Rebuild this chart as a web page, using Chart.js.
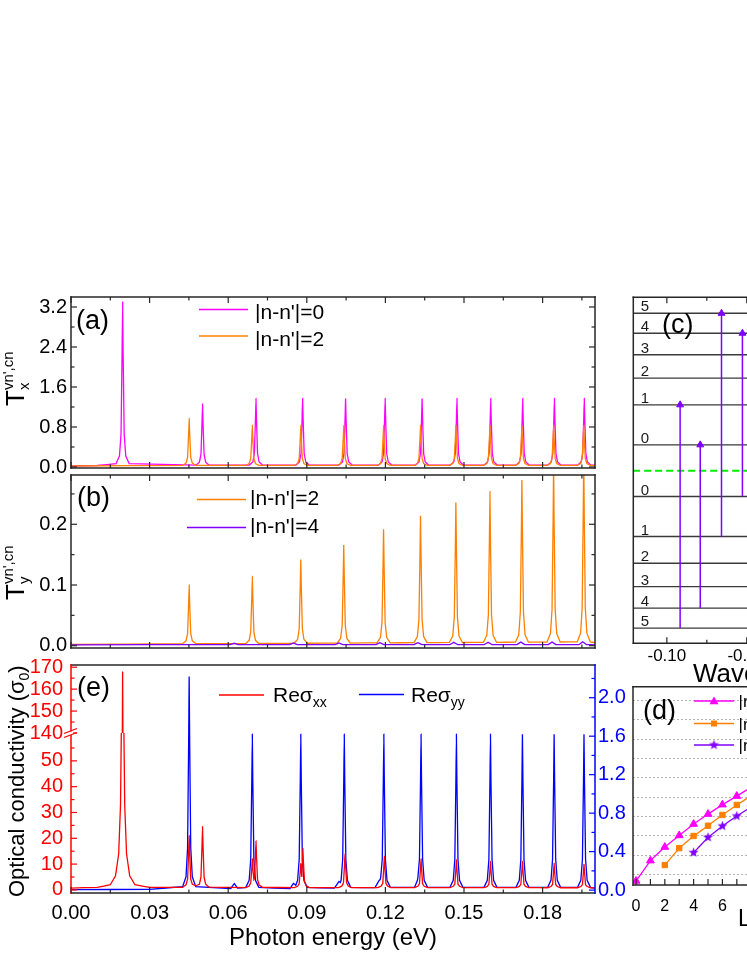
<!DOCTYPE html>
<html lang="en">
<head>
<meta charset="UTF-8">
<title>Transition strengths and optical conductivity</title>
<script src="https://cdn.jsdelivr.net/npm/chart.js"></script>
<style>
  body { margin: 0; background: #fff; }
  #fig { position: relative; width: 747px; height: 967px; overflow: hidden; background: #fff; }
  #fig canvas { position: absolute; left: 0; top: 0; }
</style>
</head>
<body>
<div id="fig">
  <canvas id="panelA" width="747" height="967"></canvas>
  <canvas id="panelB" width="747" height="967"></canvas>
  <canvas id="panelE" width="747" height="967"></canvas>
  <canvas id="panelC" width="1040" height="967"></canvas>
  <canvas id="panelD" width="1060" height="967"></canvas>
</div>
<script>
// ---- data ----
// (a) T_x, |n-n'|=0 and |n-n'|=2, photon energy in eV
const tx0 = [[0,0.02],[0.0100,0.03],
  [0.0172,0.066],[0.0185,0.22],[0.0191,0.66],[0.0195,2.28],[0.0197,3.3],[0.0199,2.28],[0.0203,0.66],[0.0209,0.22],[0.0222,0.066],
  [0.0477,0.038],[0.0490,0.096],[0.0496,0.25],[0.0500,0.87],[0.0502,1.26],[0.0504,0.87],[0.0508,0.25],[0.0514,0.096],[0.0527,0.038],
  [0.0681,0.039],[0.0694,0.10],[0.0700,0.27],[0.0704,0.95],[0.0706,1.37],[0.0708,0.95],[0.0712,0.27],[0.0718,0.10],[0.0731,0.039],
  [0.0859,0.039],[0.0872,0.10],[0.0878,0.27],[0.0882,0.95],[0.0884,1.37],[0.0886,0.95],[0.0890,0.27],[0.0896,0.10],[0.0909,0.039],
  [0.1023,0.039],[0.1036,0.10],[0.1042,0.27],[0.1046,0.95],[0.1048,1.37],[0.1050,0.95],[0.1054,0.27],[0.1060,0.10],[0.1073,0.039],
  [0.1174,0.039],[0.1187,0.10],[0.1193,0.27],[0.1197,0.95],[0.1199,1.37],[0.1201,0.95],[0.1205,0.27],[0.1211,0.10],[0.1224,0.039],
  [0.1315,0.039],[0.1328,0.10],[0.1334,0.27],[0.1338,0.95],[0.1340,1.37],[0.1342,0.95],[0.1346,0.27],[0.1352,0.10],[0.1365,0.039],
  [0.1448,0.039],[0.1461,0.10],[0.1467,0.27],[0.1471,0.95],[0.1473,1.37],[0.1475,0.95],[0.1479,0.27],[0.1485,0.10],[0.1498,0.039],
  [0.1577,0.039],[0.1590,0.10],[0.1596,0.27],[0.1600,0.95],[0.1602,1.37],[0.1604,0.95],[0.1608,0.27],[0.1614,0.10],[0.1627,0.039],
  [0.1699,0.039],[0.1712,0.10],[0.1718,0.27],[0.1722,0.95],[0.1724,1.37],[0.1726,0.95],[0.1730,0.27],[0.1736,0.10],[0.1749,0.039],
  [0.1820,0.039],[0.1833,0.10],[0.1839,0.27],[0.1843,0.95],[0.1845,1.37],[0.1847,0.95],[0.1851,0.27],[0.1857,0.10],[0.1870,0.039],
  [0.1934,0.039],[0.1947,0.10],[0.1953,0.27],[0.1957,0.95],[0.1959,1.37],[0.1961,0.95],[0.1965,0.27],[0.1971,0.10],[0.1984,0.039],
  [0.2,0.035]];
const tx2 = [[0,0.02],
  [0.0426,0.034],[0.0439,0.078],[0.0445,0.19],[0.0449,0.67],[0.0451,0.97],[0.0453,0.67],[0.0457,0.19],[0.0463,0.078],[0.0476,0.034],
  [0.0667,0.032],[0.0680,0.07],[0.0686,0.17],[0.0690,0.57],[0.0692,0.83],[0.0694,0.57],[0.0698,0.17],[0.0704,0.07],[0.0717,0.032],
  [0.0852,0.032],[0.0865,0.07],[0.0871,0.17],[0.0875,0.57],[0.0877,0.83],[0.0879,0.57],[0.0883,0.17],[0.0889,0.07],[0.0902,0.032],
  [0.1016,0.032],[0.1029,0.07],[0.1035,0.17],[0.1039,0.57],[0.1041,0.83],[0.1043,0.57],[0.1047,0.17],[0.1053,0.07],[0.1066,0.032],
  [0.1168,0.032],[0.1181,0.07],[0.1187,0.17],[0.1191,0.57],[0.1193,0.83],[0.1195,0.57],[0.1199,0.17],[0.1205,0.07],[0.1218,0.032],
  [0.1309,0.032],[0.1322,0.07],[0.1328,0.17],[0.1332,0.57],[0.1334,0.83],[0.1336,0.57],[0.1340,0.17],[0.1346,0.07],[0.1359,0.032],
  [0.1444,0.032],[0.1457,0.07],[0.1463,0.17],[0.1467,0.57],[0.1469,0.83],[0.1471,0.57],[0.1475,0.17],[0.1481,0.07],[0.1494,0.032],
  [0.1574,0.032],[0.1587,0.07],[0.1593,0.17],[0.1597,0.57],[0.1599,0.83],[0.1601,0.57],[0.1605,0.17],[0.1611,0.07],[0.1624,0.032],
  [0.1696,0.032],[0.1709,0.07],[0.1715,0.17],[0.1719,0.57],[0.1721,0.83],[0.1723,0.57],[0.1727,0.17],[0.1733,0.07],[0.1746,0.032],
  [0.1817,0.032],[0.1830,0.07],[0.1836,0.17],[0.1840,0.57],[0.1842,0.83],[0.1844,0.57],[0.1848,0.17],[0.1854,0.07],[0.1867,0.032],
  [0.1932,0.032],[0.1945,0.07],[0.1951,0.17],[0.1955,0.57],[0.1957,0.83],[0.1959,0.57],[0.1963,0.17],[0.1969,0.07],[0.1982,0.032],
  [0.2,0.03]];

// (b) T_y, |n-n'|=2 and |n-n'|=4
const ty2 = [[0,0.002],
  [0.0426,0.0034],[0.0439,0.008],[0.0445,0.020],[0.0449,0.069],[0.0451,0.100],[0.0453,0.069],[0.0457,0.020],[0.0463,0.008],[0.0476,0.0034],
  [0.0667,0.0036],[0.0680,0.0088],[0.0686,0.023],[0.0690,0.079],[0.0692,0.114],[0.0694,0.079],[0.0698,0.023],[0.0704,0.0088],[0.0717,0.0036],
  [0.0852,0.004],[0.0865,0.0105],[0.0871,0.028],[0.0875,0.098],[0.0877,0.142],[0.0879,0.098],[0.0883,0.028],[0.0889,0.0105],[0.0902,0.004],
  [0.1016,0.0043],[0.1029,0.012],[0.1035,0.033],[0.1039,0.115],[0.1041,0.166],[0.1043,0.115],[0.1047,0.033],[0.1053,0.012],[0.1066,0.0043],
  [0.1168,0.0047],[0.1181,0.0135],[0.1187,0.038],[0.1191,0.132],[0.1193,0.192],[0.1195,0.132],[0.1199,0.038],[0.1205,0.0135],[0.1218,0.0047],
  [0.1309,0.005],[0.1322,0.015],[0.1328,0.043],[0.1332,0.148],[0.1334,0.214],[0.1336,0.148],[0.1340,0.043],[0.1346,0.015],[0.1359,0.005],
  [0.1444,0.0053],[0.1457,0.016],[0.1463,0.047],[0.1467,0.163],[0.1469,0.236],[0.1471,0.163],[0.1475,0.047],[0.1481,0.016],[0.1494,0.0053],
  [0.1574,0.0056],[0.1587,0.017],[0.1593,0.051],[0.1597,0.175],[0.1599,0.254],[0.1601,0.175],[0.1605,0.051],[0.1611,0.017],[0.1624,0.0056],
  [0.1696,0.0058],[0.1709,0.018],[0.1715,0.055],[0.1719,0.188],[0.1721,0.273],[0.1723,0.188],[0.1727,0.055],[0.1733,0.018],[0.1746,0.0058],
  [0.1817,0.0061],[0.1830,0.020],[0.1836,0.059],[0.1840,0.204],[0.1842,0.295],[0.1844,0.204],[0.1848,0.059],[0.1854,0.020],[0.1867,0.0061],
  [0.1932,0.0063],[0.1945,0.0206],[0.1951,0.062],[0.1955,0.214],[0.1957,0.31],[0.1959,0.214],[0.1963,0.062],[0.1969,0.0206],[0.1982,0.0063],
  [0.2,0.005]];
const ty4 = [[0,0.0015],
  [0.0608,0.0017],[0.0623,0.004],[0.0638,0.0017],
  [0.0834,0.0017],[0.0849,0.0045],[0.0864,0.0017],
  [0.1008,0.0017],[0.1023,0.0045],[0.1038,0.0017],
  [0.1164,0.0017],[0.1179,0.005],[0.1194,0.0017],
  [0.1309,0.0017],[0.1324,0.005],[0.1339,0.0017],
  [0.1446,0.0017],[0.1461,0.0055],[0.1476,0.0017],
  [0.1577,0.0017],[0.1592,0.0055],[0.1607,0.0017],
  [0.1702,0.0017],[0.1717,0.006],[0.1732,0.0017],
  [0.1821,0.0017],[0.1836,0.006],[0.1851,0.0017],
  [0.1938,0.0017],[0.1953,0.0065],[0.1968,0.0017],
  [0.2,0.0015]];

// (e) Re sigma_xx (left, broken axis) and Re sigma_yy (right axis), units of sigma_0
const sigXX = [[0,0.7],[0.0100,1.0],[0.0150,2.0],[0.0170,5.5],[0.0182,14],[0.0189,33],[0.0193,70],[0.0197,168],[0.0201,70],[0.0205,33],[0.0212,14],[0.0224,5.5],[0.0244,2.0],[0.0300,1.0],
  [0.0426,1.0],[0.0439,2.0],[0.0445,4.2],[0.0449,14.5],[0.0451,21],[0.0453,14.5],[0.0457,4.2],[0.0463,2.2],[0.0476,1.6],
  [0.0490,2.2],[0.0496,4.9],[0.0500,16.9],[0.0502,24.5],[0.0504,16.9],[0.0508,4.9],[0.0514,2.2],[0.0527,1.04],
  [0.0667,0.9],[0.0680,1.5],[0.0686,2.8],[0.0690,8.3],[0.0692,12],[0.0694,8.4],[0.0698,4.0],[0.0700,4.3],[0.0704,13.2],[0.0706,19],[0.0708,13.2],[0.0712,4.0],[0.0718,1.9],[0.0731,1.0],
  [0.0852,0.85],[0.0865,1.4],[0.0871,2.4],[0.0875,7.2],[0.0877,10.3],[0.0879,7.5],[0.0881,5.0],[0.0883,11.1],[0.0885,16],[0.0887,11.1],[0.0891,3.3],[0.0897,1.6],[0.0910,0.9],
  [0.1021,0.9],[0.1034,1.5],[0.1040,2.8],[0.1044,9.7],[0.1046,14],[0.1048,9.7],[0.1052,2.8],[0.1058,1.5],[0.1071,0.9],
  [0.1171,0.88],[0.1184,1.48],[0.1190,2.6],[0.1194,9.0],[0.1196,13],[0.1198,9.0],[0.1202,2.6],[0.1208,1.48],[0.1221,0.88],
  [0.1311,0.87],[0.1324,1.42],[0.1330,2.4],[0.1334,8.3],[0.1336,12],[0.1338,8.3],[0.1342,2.4],[0.1348,1.42],[0.1361,0.87],
  [0.1446,0.86],[0.1459,1.4],[0.1465,2.3],[0.1469,8.0],[0.1471,11.6],[0.1473,8.0],[0.1477,2.3],[0.1483,1.4],[0.1496,0.86],
  [0.1576,0.85],[0.1589,1.36],[0.1595,2.2],[0.1599,7.6],[0.1601,11],[0.1603,7.6],[0.1607,2.2],[0.1613,1.36],[0.1626,0.85],
  [0.1698,0.85],[0.1711,1.36],[0.1717,2.2],[0.1721,7.6],[0.1723,11],[0.1725,7.6],[0.1729,2.2],[0.1735,1.36],[0.1748,0.85],
  [0.1819,0.84],[0.1832,1.32],[0.1838,2.1],[0.1842,7.1],[0.1844,10.3],[0.1846,7.1],[0.1850,2.1],[0.1856,1.32],[0.1869,0.84],
  [0.1933,0.84],[0.1946,1.3],[0.1952,2.0],[0.1956,6.9],[0.1958,10],[0.1960,6.9],[0.1964,2.0],[0.1970,1.3],[0.1983,0.84],
  [0.2,0.8]];
const sigYY = [[0,0.005],[0.0300,0.008],
  [0.0426,0.036],[0.0439,0.138],[0.0445,0.44],[0.0449,1.53],[0.0451,2.22],[0.0453,1.53],[0.0457,0.44],[0.0463,0.138],[0.0476,0.036],
  [0.0610,0.015],[0.0623,0.07],[0.0636,0.02],
  [0.0667,0.028],[0.0680,0.102],[0.0686,0.32],[0.0690,1.12],[0.0692,1.62],[0.0694,1.12],[0.0698,0.32],[0.0704,0.102],[0.0717,0.028],
  [0.0836,0.016],[0.0849,0.07],[0.0858,0.05],
  [0.0865,0.102],[0.0871,0.32],[0.0875,1.12],[0.0877,1.62],[0.0879,1.12],[0.0883,0.32],[0.0889,0.102],[0.0902,0.028],
  [0.1005,0.02],[0.1023,0.09],[0.1028,0.08],
  [0.1031,0.102],[0.1037,0.32],[0.1041,1.12],[0.1043,1.62],[0.1045,1.12],[0.1049,0.32],[0.1055,0.102],[0.1068,0.028],
  [0.1160,0.025],[0.1176,0.1],[0.1180,0.11],
  [0.1182,0.13],[0.1188,0.32],[0.1192,1.12],[0.1194,1.62],[0.1196,1.12],[0.1200,0.32],[0.1206,0.102],[0.1219,0.028],
  [0.1311,0.028],[0.1322,0.1],[0.1324,0.13],[0.1330,0.32],[0.1334,1.12],[0.1336,1.62],[0.1338,1.12],[0.1342,0.32],[0.1348,0.102],[0.1361,0.028],
  [0.1446,0.028],[0.1459,0.102],[0.1465,0.32],[0.1469,1.12],[0.1471,1.62],[0.1473,1.12],[0.1477,0.32],[0.1483,0.102],[0.1496,0.028],
  [0.1576,0.028],[0.1589,0.102],[0.1595,0.32],[0.1599,1.12],[0.1601,1.62],[0.1603,1.12],[0.1607,0.32],[0.1613,0.102],[0.1626,0.028],
  [0.1698,0.028],[0.1711,0.102],[0.1717,0.32],[0.1721,1.12],[0.1723,1.62],[0.1725,1.12],[0.1729,0.32],[0.1735,0.102],[0.1748,0.028],
  [0.1819,0.028],[0.1832,0.102],[0.1838,0.32],[0.1842,1.12],[0.1844,1.62],[0.1846,1.12],[0.1850,0.32],[0.1856,0.102],[0.1869,0.028],
  [0.1933,0.028],[0.1946,0.102],[0.1952,0.32],[0.1956,1.12],[0.1958,1.62],[0.1960,1.12],[0.1964,0.32],[0.1970,0.102],[0.1983,0.028],
  [0.2,0.02]];

// (c) Landau levels (meV, symmetric about the Fermi level) and the drawn transitions
const levelEnergy = [9.85, 25.1, 35.3, 44.2, 52.4, 60.0];
const levelIndex = ['0', '1', '2', '3', '4', '5'];
const arrowK = [-0.0917, -0.0791, -0.0658, -0.0527];
const arrowFrom = [-60.0, -52.4, -25.1, -9.85];
const arrowTo = [25.1, 9.85, 60.0, 52.4];
const kMin = -0.121, kMax = 0.121;

// (d) peak positions (THz) against level index
const peakN0 = [[0,4.76],[1,12.1],[2,17.0],[3,21.2],[4,25.3],[5,28.9],[6,32.3],[7,35.4],[8,38.6]];
const peakN2 = [[2,10.5],[3,16.6],[4,21.0],[5,24.7],[6,28.6],[7,32.2],[8,35.5]];
const peakN4 = [[4,15.0],[5,20.5],[6,24.6],[7,28.2],[8,31.5]];

// ---- styling ----
const FONT = '"Liberation Sans", Arial, sans-serif';
const MAG = '#ff00ff', ORG = '#ff8000', VIO = '#8000ff', RED = '#ff0000', BLU = '#0000ff', GRN = '#00ee00';
const INK = '#262626';

Chart.defaults.font.family = FONT;
Chart.defaults.color = '#000';
Chart.defaults.animation = false;
Chart.defaults.events = [];
Chart.defaults.responsive = false;
Chart.defaults.plugins.legend.display = false;
Chart.defaults.plugins.tooltip.enabled = false;
Chart.defaults.elements.point.radius = 0;
Chart.defaults.elements.line.borderWidth = 1.3;
// a tiny tension keeps the segments straight but avoids the column-merging fast path
Chart.defaults.elements.line.tension = 0.0001;
Chart.defaults.elements.line.fill = false;

// small filled star used as marker for |n-n'|=4 in (d)
const starImg = document.createElement('canvas');
starImg.width = 11; starImg.height = 11;
(function () {
  const c = starImg.getContext('2d');
  c.fillStyle = VIO;
  c.beginPath();
  for (let i = 0; i < 10; i++) {
    const r = i % 2 ? 2.2 : 5.3;
    const a = -Math.PI / 2 + i * Math.PI / 5;
    c.lineTo(5.5 + r * Math.cos(a), 5.5 + r * Math.sin(a));
  }
  c.closePath();
  c.fill();
})();

// box around the plot with inward ticks on the chosen sides
const framePlugin = {
  id: 'frame',
  afterDatasetsDraw(chart, args, o) {
    if (!o || !o.on) return;
    const {ctx, chartArea: a} = chart;
    const b = o.border || {};
    ctx.save();
    ctx.lineWidth = 1.5;
    ctx.lineCap = 'square';
    const edge = (col, x1, y1, x2, y2) => {
      ctx.strokeStyle = col; ctx.beginPath(); ctx.moveTo(x1, y1); ctx.lineTo(x2, y2); ctx.stroke();
    };
    edge(b.top || INK, a.left, a.top, a.right, a.top);
    edge(b.bottom || INK, a.left, a.bottom, a.right, a.bottom);
    edge(b.left || INK, a.left, a.top, a.left, a.bottom);
    edge(b.right || INK, a.right, a.top, a.right, a.bottom);
    ctx.lineWidth = 1.2;
    ctx.lineCap = 'butt';
    (o.axes || []).forEach(ax => {
      const sc = chart.scales[ax.id];
      ctx.strokeStyle = ax.color || INK;
      const k0 = Math.ceil(sc.min / ax.step - 1e-6), k1 = Math.floor(sc.max / ax.step + 1e-6);
      for (let k = k0; k <= k1; k++) {
        const v = k * ax.step;
        if (ax.maxV !== undefined && v > ax.maxV + 1e-9) continue;
        const p = sc.getPixelForValue(v);
        const len = Math.abs(k) % (ax.every || 1) === 0 ? 6 : 3.5;
        ax.sides.forEach(s => {
          ctx.beginPath();
          if (s === 'bottom') { ctx.moveTo(p, a.bottom); ctx.lineTo(p, a.bottom - len); }
          if (s === 'top') { ctx.moveTo(p, a.top); ctx.lineTo(p, a.top + len); }
          if (s === 'left') { ctx.moveTo(a.left, p); ctx.lineTo(a.left + len, p); }
          if (s === 'right') { ctx.moveTo(a.right, p); ctx.lineTo(a.right - len, p); }
          ctx.stroke();
        });
      }
    });
    ctx.restore();
  }
};

function drawMarker(ctx, kind, x, y, col) {
  if (kind === 'star') { ctx.drawImage(starImg, x - 5.5, y - 5.5); return; }
  ctx.fillStyle = col;
  ctx.beginPath();
  if (kind === 'tri') { ctx.moveTo(x, y - 4.5); ctx.lineTo(x + 4.5, y + 3.2); ctx.lineTo(x - 4.5, y + 3.2); }
  else { ctx.rect(x - 3, y - 3, 6, 6); }
  ctx.closePath();
  ctx.fill();
}

// legend samples, panel letters and axis titles with sub/superscripts
const notesPlugin = {
  id: 'notes',
  afterDraw(chart, args, o) {
    if (!o) return;
    const ctx = chart.ctx;
    (o.lines || []).forEach(l => {
      ctx.save();
      ctx.strokeStyle = l.color;
      ctx.lineWidth = l.width || 1.5;
      ctx.beginPath(); ctx.moveTo(l.x1, l.y); ctx.lineTo(l.x2, l.y); ctx.stroke();
      if (l.marker) drawMarker(ctx, l.marker, (l.x1 + l.x2) / 2, l.y, l.color);
      ctx.restore();
    });
    (o.texts || []).forEach(t => {
      ctx.save();
      ctx.translate(t.x, t.y);
      if (t.rot) ctx.rotate(t.rot);
      ctx.fillStyle = t.color || '#000';
      ctx.textBaseline = 'alphabetic';
      ctx.textAlign = 'left';
      let cx = 0, lastStart = 0;
      t.parts.forEach(p => {
        const str = p[0], size = p[1], dy = p[2] || 0, back = p[3];
        if (back) cx = lastStart;
        ctx.font = size + 'px ' + FONT;
        lastStart = cx;
        ctx.fillText(str, cx, dy);
        cx += ctx.measureText(str).width;
      });
      ctx.restore();
    });
  }
};

Chart.register(framePlugin, notesPlugin);

const hiddenGrid = {grid: {display: false, drawTicks: false}, border: {display: false}};
const UP = -Math.PI / 2;

// ---- (a) ----
new Chart(document.getElementById('panelA'), {
  type: 'line',
  data: {datasets: [
    {data: tx2, borderColor: ORG, order: 0},
    {data: tx0, borderColor: MAG, order: 1}
  ]},
  options: {
    layout: {padding: {left: 9, top: 297, right: 152, bottom: 499}},
    scales: {
      x: {type: 'linear', display: false, min: 0, max: 0.2},
      y: Object.assign({
        type: 'linear', min: -0.02, max: 3.4,
        ticks: {stepSize: 0.8, autoSkip: false, includeBounds: false, padding: 4, font: {size: 20}, callback: v => v.toFixed(1)},
        afterFit: s => { s.width = 62; }
      }, hiddenGrid)
    },
    plugins: {
      frame: {on: true, axes: [
        {id: 'x', sides: ['bottom', 'top'], step: 0.015, every: 2},
        {id: 'y', sides: ['left', 'right'], step: 0.4, every: 2}
      ]},
      notes: {
        lines: [
          {x1: 199, x2: 248, y: 309.5, color: MAG},
          {x1: 199, x2: 248, y: 336, color: ORG}
        ],
        texts: [
          {x: 76, y: 329, parts: [['(a)', 27]]},
          {x: 255, y: 319, parts: [["|n-n'|=0", 21]]},
          {x: 255, y: 346, parts: [["|n-n'|=2", 21]]},
          {x: 24, y: 406, rot: UP, parts: [['T', 26], ['x', 15, 5], ["vn',cn", 15, -11, true]]}
        ]
      }
    }
  }
});

// ---- (b) ----
new Chart(document.getElementById('panelB'), {
  type: 'line',
  data: {datasets: [
    {data: ty4, borderColor: VIO, order: 0},
    {data: ty2, borderColor: ORG, order: 1}
  ]},
  options: {
    layout: {padding: {left: 9, top: 475, right: 152, bottom: 319}},
    scales: {
      x: {type: 'linear', display: false, min: 0, max: 0.2},
      y: Object.assign({
        type: 'linear', min: -0.0038, max: 0.2812,
        ticks: {stepSize: 0.1, autoSkip: false, includeBounds: false, padding: 4, font: {size: 20}, callback: v => v.toFixed(1)},
        afterFit: s => { s.width = 62; }
      }, hiddenGrid)
    },
    plugins: {
      frame: {on: true, axes: [
        {id: 'x', sides: ['bottom', 'top'], step: 0.015, every: 2},
        {id: 'y', sides: ['left', 'right'], step: 0.05, every: 2}
      ]},
      notes: {
        lines: [
          {x1: 197, x2: 246, y: 499.5, color: ORG},
          {x1: 187, x2: 246, y: 527.5, color: VIO}
        ],
        texts: [
          {x: 77, y: 506, parts: [['(b)', 27]]},
          {x: 250, y: 505, parts: [["|n-n'|=2", 21]]},
          {x: 250, y: 533, parts: [["|n-n'|=4", 21]]},
          {x: 24, y: 600, rot: UP, parts: [['T', 26], ['y', 15, 5], ["vn',cn", 15, -11, true]]}
        ]
      }
    }
  }
});

// ---- (e) ----
// clip each dataset to the band of its own y scale (broken left axis)
const sectionClip = {
  id: 'sectionClip',
  beforeDatasetDraw(chart, args) {
    const a = chart.chartArea, ys = args.meta.yScale;
    chart.ctx.save();
    chart.ctx.beginPath();
    chart.ctx.rect(a.left, ys.top, a.right - a.left, ys.bottom - ys.top);
    chart.ctx.clip();
  },
  afterDatasetDraw(chart) { chart.ctx.restore(); }
};
const breakMark = {
  id: 'breakMark',
  afterDraw(chart) {
    const ctx = chart.ctx, x0 = chart.chartArea.left, y0 = chart.scales.yU.bottom;
    ctx.save();
    ctx.fillStyle = '#fff';
    ctx.fillRect(x0 - 2, y0 - 1.5, 4, 3.5);
    ctx.strokeStyle = RED;
    ctx.lineWidth = 1.3;
    ctx.beginPath();
    ctx.moveTo(x0 - 7, y0 + 0.5); ctx.lineTo(x0 + 6, y0 - 4.5);
    ctx.moveTo(x0 - 7, y0 + 4.5); ctx.lineTo(x0 + 6, y0 - 0.5);
    ctx.stroke();
    ctx.restore();
  }
};
new Chart(document.getElementById('panelE'), {
  type: 'line',
  data: {datasets: [
    {data: sigXX, yAxisID: 'yU', borderColor: RED, order: 0},
    {data: sigXX, yAxisID: 'yL', borderColor: RED, order: 1},
    {data: sigYY, yAxisID: 'yR', borderColor: BLU, order: 2}
  ]},
  options: {
    layout: {padding: {left: 9, top: 665, right: 112, bottom: 14}},
    scales: {
      x: Object.assign({
        type: 'linear', min: 0, max: 0.2,
        ticks: {stepSize: 0.03, autoSkip: false, includeBounds: false, padding: 8, font: {size: 20}, callback: v => v.toFixed(2)},
        title: {display: true, text: 'Photon energy (eV)', font: {size: 24}, padding: {top: 0, bottom: 0}},
        afterFit: s => { s.height = 60; }
      }, hiddenGrid),
      yL: Object.assign({
        type: 'linear', position: 'left', stack: 'sig', stackWeight: 160, weight: 1,
        min: -1.2, max: 60.8,
        ticks: {stepSize: 10, autoSkip: false, includeBounds: false, padding: 8, font: {size: 20}, color: RED,
          callback: v => (v > 55 ? null : String(v))},
        afterFit: s => { s.width = 62; }
      }, hiddenGrid),
      yU: Object.assign({
        type: 'linear', position: 'left', stack: 'sig', stackWeight: 68, weight: 2,
        min: 140, max: 171,
        ticks: {stepSize: 10, autoSkip: false, includeBounds: false, padding: 8, font: {size: 20}, color: RED, callback: v => String(v)},
        afterFit: s => { s.width = 62; }
      }, hiddenGrid),
      yR: Object.assign({
        type: 'linear', position: 'right', min: -0.03, max: 2.34,
        ticks: {stepSize: 0.4, autoSkip: false, includeBounds: false, padding: 3, font: {size: 20}, color: BLU, callback: v => v.toFixed(1)},
        afterFit: s => { s.width = 40; }
      }, hiddenGrid)
    },
    plugins: {
      frame: {on: true, border: {left: RED, right: BLU}, axes: [
        {id: 'x', sides: ['bottom'], step: 0.015, every: 2},
        {id: 'yL', sides: ['left'], step: 5, every: 2, color: RED, maxV: 55},
        {id: 'yU', sides: ['left'], step: 5, every: 2, color: RED},
        {id: 'yR', sides: ['right'], step: 0.2, every: 2, color: BLU}
      ]},
      notes: {
        lines: [
          {x1: 219, x2: 264, y: 695, color: RED},
          {x1: 359, x2: 404, y: 694.5, color: BLU}
        ],
        texts: [
          {x: 77, y: 696, parts: [['(e)', 27]]},
          {x: 273, y: 701.5, parts: [['Reσ', 21], ['xx', 14, 5]]},
          {x: 411, y: 701.5, parts: [['Reσ', 21], ['yy', 14, 5]]},
          {x: 24, y: 897, rot: UP, parts: [['Optical conductivity (σ', 22], ['0', 14, 5], [')', 22]]}
        ]
      }
    }
  },
  plugins: [sectionClip, breakMark]
});

// ---- (c) ----
const levelSets = [];
levelEnergy.forEach(e => {
  levelSets.push({data: [[kMin, e], [kMax, e]], borderColor: '#3a3a3a', borderWidth: 1.4, order: 5});
  levelSets.push({data: [[kMin, -e], [kMax, -e]], borderColor: '#3a3a3a', borderWidth: 1.4, order: 5});
});
const arrowSets = arrowK.map((k, i) => ({
  data: [[k, arrowFrom[i]], [k, arrowTo[i]]],
  borderColor: VIO, borderWidth: 1.5, order: 0,
  pointRadius: [0, 4], pointStyle: 'triangle', pointBackgroundColor: VIO, pointBorderColor: VIO, pointBorderWidth: 1
}));
const levelLabels = {
  id: 'levelLabels',
  afterDatasetsDraw(chart) {
    const ctx = chart.ctx, ys = chart.scales.y, x0 = chart.chartArea.left + 7.5;
    ctx.save();
    ctx.fillStyle = '#1a1a1a';
    ctx.font = '15px ' + FONT;
    ctx.textBaseline = 'alphabetic';
    levelEnergy.forEach((e, i) => {
      ctx.fillText(levelIndex[i], x0, ys.getPixelForValue(e) - 2);
      ctx.fillText(levelIndex[i], x0, ys.getPixelForValue(-e) - 2);
    });
    ctx.restore();
  }
};
new Chart(document.getElementById('panelC'), {
  type: 'line',
  data: {datasets: arrowSets.concat([
    {data: [[kMin, 0], [kMax, 0]], borderColor: GRN, borderWidth: 2, borderDash: [7, 4], order: 3}
  ], levelSets)},
  options: {
    layout: {padding: {left: 633.3, top: 297.3, right: 20, bottom: 293.7}},
    scales: {
      x: Object.assign({
        type: 'linear', min: kMin, max: kMax,
        ticks: {stepSize: 0.05, autoSkip: false, includeBounds: false, padding: 3, font: {size: 17}, callback: v => v.toFixed(2)},
        afterFit: s => { s.height = 30; }
      }, hiddenGrid),
      y: {type: 'linear', display: false, min: -65.8, max: 66.1}
    },
    plugins: {
      frame: {on: true, axes: [{id: 'x', sides: ['bottom', 'top'], step: 0.025, every: 2}]},
      notes: {
        texts: [
          {x: 662, y: 333, parts: [['(c)', 27]]},
          {x: 693, y: 682, parts: [['Wave vector (1/nm)', 26]]}
        ]
      }
    }
  },
  plugins: [levelLabels]
});

// ---- (d) ----
new Chart(document.getElementById('panelD'), {
  type: 'line',
  data: {datasets: [
    {data: peakN0, borderColor: MAG, pointStyle: 'triangle', pointRadius: 4.5, pointBackgroundColor: MAG, pointBorderColor: MAG, pointBorderWidth: 1, order: 0},
    {data: peakN2, borderColor: ORG, pointStyle: 'rect', pointRadius: 3.8, pointBackgroundColor: ORG, pointBorderColor: ORG, pointBorderWidth: 1, order: 1},
    {data: peakN4, borderColor: VIO, pointStyle: starImg, pointRadius: 5, order: 2}
  ]},
  options: {
    layout: {padding: {left: 633, top: 686.7, right: 25, bottom: 32}},
    scales: {
      x: Object.assign({
        type: 'linear', min: -0.21, max: 27.71,
        ticks: {stepSize: 2, autoSkip: false, includeBounds: false, padding: 12, font: {size: 16}, callback: v => String(v)},
        title: {display: true, text: 'Landau level index', font: {size: 23}, padding: {top: 0, bottom: 2}},
        afterFit: s => { s.height = 50; }
      }, hiddenGrid),
      y: {
        type: 'linear', min: 3.3, max: 74.9,
        ticks: {display: false, stepSize: 7, includeBounds: false},
        grid: {display: true, drawTicks: false, color: '#b4b4b4', lineWidth: 1},
        border: {display: false, dash: [2, 2]},
        afterFit: s => { s.width = 0; }
      }
    },
    plugins: {
      frame: {on: true, axes: [{id: 'x', sides: ['bottom'], step: 1, every: 1}]},
      notes: {
        lines: [
          {x1: 694, x2: 734, y: 701, color: MAG, width: 1.3, marker: 'tri'},
          {x1: 694, x2: 734, y: 723.5, color: ORG, width: 1.3, marker: 'sq'},
          {x1: 694, x2: 734, y: 745, color: VIO, width: 1.3, marker: 'star'}
        ],
        texts: [
          {x: 643, y: 718.5, parts: [['(d)', 27]]},
          {x: 738.5, y: 707, parts: [["|n-n'|=0", 17]]},
          {x: 738.5, y: 729.5, parts: [["|n-n'|=2", 17]]},
          {x: 738.5, y: 751, parts: [["|n-n'|=4", 17]]}
        ]
      }
    }
  }
});
</script>
</body>
</html>
